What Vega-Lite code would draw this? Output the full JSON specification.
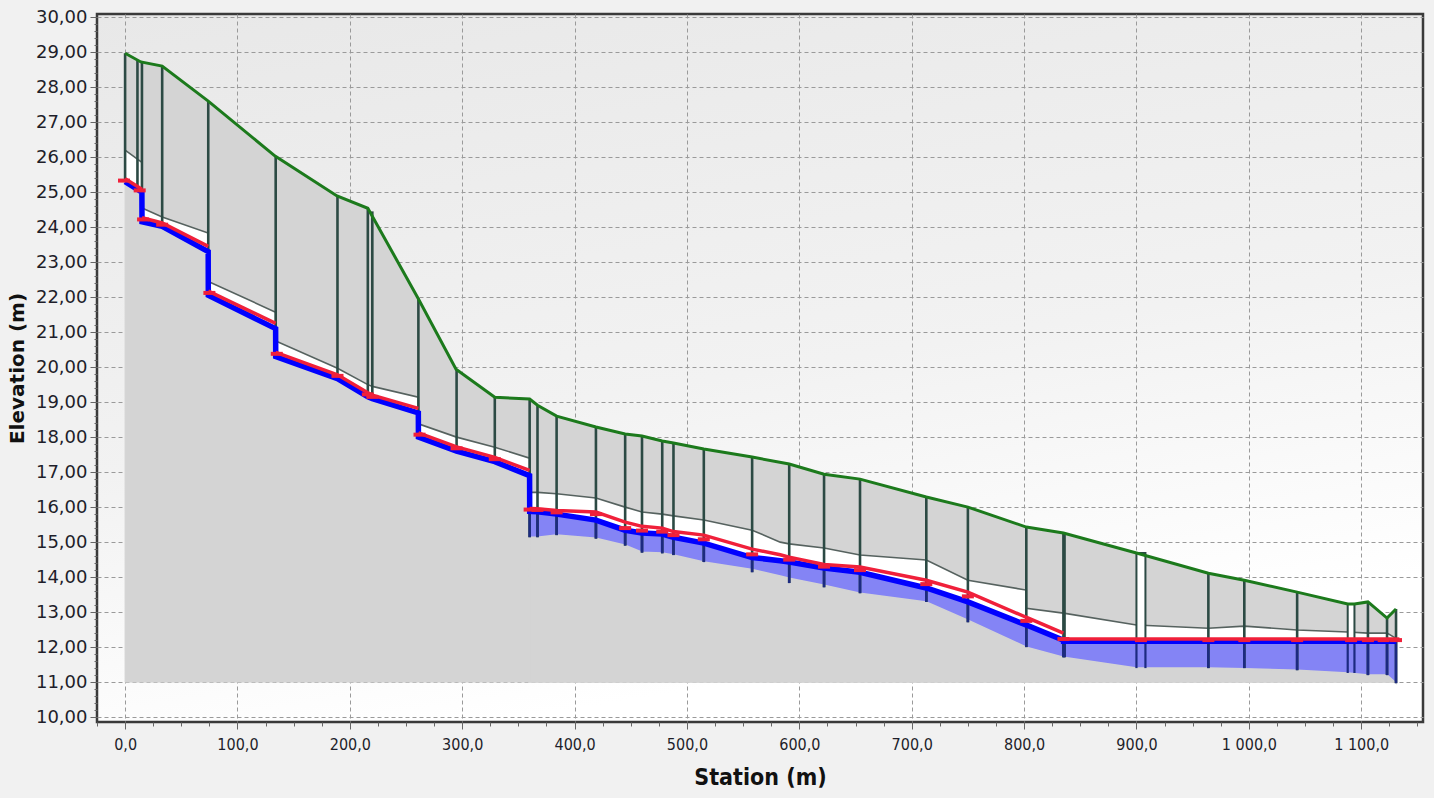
{
  "$schema": "https://vega.github.io/schema/vega-lite/v6.json",
  "width": 1326,
  "height": 708,
  "autosize": {"type": "none"},
  "padding": {"left": 97, "top": 14, "right": 11, "bottom": 76},
  "background": "#f1f1f1",
  "config": {
    "view": {
      "fill": {"gradient": "linear", "x1": 0, "y1": 0, "x2": 0.3, "y2": 1, "stops": [{"offset": 0, "color": "#e8e8e8"}, {"offset": 0.6, "color": "#f2f2f2"}, {"offset": 1, "color": "#ffffff"}]},
      "stroke": "#3a3a3a",
      "strokeWidth": 2.5
    },
    "axis": {
      "labelFont": "DejaVu Sans",
      "labelColor": "#1e1e2a",
      "titleFont": "DejaVu Sans",
      "titleColor": "#111111",
      "titleFontWeight": "bold",
      "gridColor": "#9a9a9a",
      "gridDash": [4, 3],
      "gridWidth": 1,
      "tickColor": "#666666",
      "domain": false,
      "labelOverlap": false,
      "zindex": 1
    }
  },
  "datasets": {
    "ground": [
      {"s": 0, "g": 28.97}, {"s": 14, "g": 28.72}, {"s": 33, "g": 28.6}, {"s": 74, "g": 27.6},
      {"s": 133.5, "g": 26.03}, {"s": 188.6, "g": 24.89}, {"s": 216, "g": 24.54}, {"s": 260.7, "g": 21.97},
      {"s": 294.5, "g": 19.94}, {"s": 329, "g": 19.14}, {"s": 360, "g": 19.09}, {"s": 367, "g": 18.91},
      {"s": 384, "g": 18.6}, {"s": 419, "g": 18.29}, {"s": 445, "g": 18.09}, {"s": 460, "g": 18.03},
      {"s": 478, "g": 17.89}, {"s": 488, "g": 17.83}, {"s": 515, "g": 17.66}, {"s": 558, "g": 17.43},
      {"s": 591, "g": 17.23}, {"s": 622, "g": 16.94}, {"s": 654, "g": 16.8}, {"s": 713, "g": 16.29},
      {"s": 750, "g": 16.0}, {"s": 802, "g": 15.43}, {"s": 835, "g": 15.26}, {"s": 900, "g": 14.69},
      {"s": 964, "g": 14.11}, {"s": 996, "g": 13.91}, {"s": 1043, "g": 13.57}, {"s": 1088, "g": 13.23},
      {"s": 1094, "g": 13.23}, {"s": 1106, "g": 13.29}, {"s": 1123, "g": 12.83}, {"s": 1131, "g": 13.09}
    ],
    "pipe": [
      {"i": 1, "s": 0, "crown": 26.2, "water": 25.38, "inv": 25.3, "seg": "A"},
      {"i": 2, "s": 14.95, "crown": 25.85, "water": 25.08, "inv": 25.0, "seg": "A"},
      {"i": 3, "s": 15.05, "crown": 24.55, "water": 24.27, "inv": 24.15, "seg": "B"},
      {"i": 4, "s": 33, "crown": 24.29, "water": 24.12, "inv": 24.02, "seg": "B"},
      {"i": 5, "s": 73.95, "crown": 23.83, "water": 23.45, "inv": 23.3, "seg": "B"},
      {"i": 6, "s": 74.05, "crown": 22.45, "water": 22.17, "inv": 22.05, "seg": "C"},
      {"i": 7, "s": 133.95, "crown": 21.57, "water": 21.25, "inv": 21.1, "seg": "C"},
      {"i": 8, "s": 134.05, "crown": 20.75, "water": 20.42, "inv": 20.3, "seg": "D"},
      {"i": 9, "s": 189, "crown": 19.97, "water": 19.78, "inv": 19.67, "seg": "D"},
      {"i": 10, "s": 216, "crown": 19.5, "water": 19.27, "inv": 19.15, "seg": "D"},
      {"i": 11, "s": 220, "crown": 19.45, "water": 19.2, "inv": 19.1, "seg": "D"},
      {"i": 12, "s": 260.95, "crown": 19.14, "water": 18.82, "inv": 18.69, "seg": "D"},
      {"i": 13, "s": 261.05, "crown": 18.38, "water": 18.12, "inv": 18.0, "seg": "E"},
      {"i": 14, "s": 295, "crown": 18.0, "water": 17.72, "inv": 17.6, "seg": "E"},
      {"i": 15, "s": 329, "crown": 17.71, "water": 17.42, "inv": 17.3, "seg": "E"},
      {"i": 16, "s": 359.95, "crown": 17.4, "water": 17.05, "inv": 16.9, "seg": "E"},
      {"i": 17, "s": 360.05, "crown": 16.42, "water": 15.96, "inv": 15.88, "seg": "F"},
      {"i": 18, "s": 367, "crown": 16.42, "water": 15.95, "inv": 15.87, "seg": "F"},
      {"i": 19, "s": 384, "crown": 16.38, "water": 15.9, "inv": 15.8, "seg": "F"},
      {"i": 20, "s": 419, "crown": 16.26, "water": 15.86, "inv": 15.63, "seg": "F"},
      {"i": 21, "s": 445, "crown": 16.0, "water": 15.57, "inv": 15.34, "seg": "F"},
      {"i": 22, "s": 460, "crown": 15.86, "water": 15.45, "inv": 15.26, "seg": "F"},
      {"i": 23, "s": 478, "crown": 15.8, "water": 15.4, "inv": 15.23, "seg": "F"},
      {"i": 24, "s": 488, "crown": 15.75, "water": 15.3, "inv": 15.14, "seg": "F"},
      {"i": 25, "s": 515, "crown": 15.63, "water": 15.2, "inv": 14.97, "seg": "F"},
      {"i": 26, "s": 558, "crown": 15.34, "water": 14.8, "inv": 14.56, "seg": "F"},
      {"i": 27, "s": 583, "crown": 15.0, "water": 14.64, "inv": 14.47, "seg": "F"},
      {"i": 28, "s": 591, "crown": 14.95, "water": 14.57, "inv": 14.43, "seg": "F"},
      {"i": 29, "s": 622, "crown": 14.83, "water": 14.36, "inv": 14.26, "seg": "F"},
      {"i": 30, "s": 654, "crown": 14.63, "water": 14.29, "inv": 14.14, "seg": "F"},
      {"i": 31, "s": 713, "crown": 14.49, "water": 13.91, "inv": 13.69, "seg": "F"},
      {"i": 32, "s": 750, "crown": 13.91, "water": 13.57, "inv": 13.29, "seg": "F"},
      {"i": 33, "s": 801.95, "crown": 13.63, "water": 12.85, "inv": 12.63, "seg": "F"},
      {"i": 34, "s": 802.05, "crown": 13.11, "water": 12.85, "inv": 12.63, "seg": "F"},
      {"i": 35, "s": 834.95, "crown": 12.97, "water": 12.4, "inv": 12.2, "seg": "F"},
      {"i": 36, "s": 835.05, "crown": 12.97, "water": 12.23, "inv": 12.17, "seg": "G"},
      {"i": 37, "s": 900, "crown": 12.63, "water": 12.23, "inv": 12.17, "seg": "G"},
      {"i": 38, "s": 964, "crown": 12.54, "water": 12.23, "inv": 12.17, "seg": "G"},
      {"i": 39, "s": 996, "crown": 12.6, "water": 12.23, "inv": 12.17, "seg": "G"},
      {"i": 40, "s": 1043, "crown": 12.49, "water": 12.23, "inv": 12.17, "seg": "G"},
      {"i": 41, "s": 1088, "crown": 12.43, "water": 12.23, "inv": 12.17, "seg": "G"},
      {"i": 42, "s": 1106, "crown": 12.4, "water": 12.23, "inv": 12.17, "seg": "G"},
      {"i": 43, "s": 1123, "crown": 12.4, "water": 12.23, "inv": 12.17, "seg": "G"},
      {"i": 44, "s": 1131, "crown": 12.25, "water": 12.23, "inv": 12.17, "seg": "G"}
    ],
    "sump": [
      {"s": 360, "top": 15.88, "bot": 15.14},
      {"s": 367, "top": 15.87, "bot": 15.14},
      {"s": 384, "top": 15.8, "bot": 15.2},
      {"s": 419, "top": 15.63, "bot": 15.11},
      {"s": 445, "top": 15.34, "bot": 14.91},
      {"s": 460, "top": 15.26, "bot": 14.71},
      {"s": 478, "top": 15.23, "bot": 14.69},
      {"s": 488, "top": 15.14, "bot": 14.63},
      {"s": 515, "top": 14.97, "bot": 14.43},
      {"s": 558, "top": 14.56, "bot": 14.22},
      {"s": 583, "top": 14.47, "bot": 14.03},
      {"s": 591, "top": 14.43, "bot": 13.97},
      {"s": 622, "top": 14.26, "bot": 13.77},
      {"s": 654, "top": 14.14, "bot": 13.54},
      {"s": 713, "top": 13.69, "bot": 13.29},
      {"s": 750, "top": 13.29, "bot": 12.77},
      {"s": 802, "top": 12.63, "bot": 12.0},
      {"s": 835, "top": 12.2, "bot": 11.71},
      {"s": 900, "top": 12.17, "bot": 11.4},
      {"s": 964, "top": 12.17, "bot": 11.4},
      {"s": 996, "top": 12.17, "bot": 11.38},
      {"s": 1043, "top": 12.17, "bot": 11.34},
      {"s": 1088, "top": 12.17, "bot": 11.26},
      {"s": 1106, "top": 12.17, "bot": 11.2},
      {"s": 1123, "top": 12.17, "bot": 11.2},
      {"s": 1131, "top": 12.17, "bot": 10.97}
    ],
    "redtail": [
      {"s": 1131, "w": 12.23}, {"s": 1134, "w": 12.23}
    ],
    "mh": [
      {"s": 0, "top": 28.97, "bot": 25.3},
      {"s": 11, "top": 28.78, "bot": 25.05},
      {"s": 15, "top": 28.72, "bot": 24.1},
      {"s": 33, "top": 28.6, "bot": 24.0},
      {"s": 74, "top": 27.6, "bot": 22.1},
      {"s": 134, "top": 26.03, "bot": 20.35},
      {"s": 189, "top": 24.89, "bot": 19.7},
      {"s": 216, "top": 24.54, "bot": 19.2},
      {"s": 220, "top": 24.45, "bot": 19.1},
      {"s": 261, "top": 21.97, "bot": 18.05},
      {"s": 295, "top": 19.94, "bot": 17.65},
      {"s": 329, "top": 19.14, "bot": 17.35},
      {"s": 360, "top": 19.09, "inv": 15.88, "bot": 15.14},
      {"s": 367, "top": 18.91, "inv": 15.87, "bot": 15.14},
      {"s": 384, "top": 18.6, "inv": 15.8, "bot": 15.2},
      {"s": 419, "top": 18.29, "inv": 15.63, "bot": 15.1},
      {"s": 445, "top": 18.09, "inv": 15.34, "bot": 14.9},
      {"s": 460, "top": 18.03, "inv": 15.26, "bot": 14.7},
      {"s": 478, "top": 17.89, "inv": 15.23, "bot": 14.68},
      {"s": 488, "top": 17.83, "inv": 15.14, "bot": 14.63},
      {"s": 515, "top": 17.66, "inv": 14.97, "bot": 14.43},
      {"s": 558, "top": 17.43, "inv": 14.56, "bot": 14.14},
      {"s": 591, "top": 17.23, "inv": 14.43, "bot": 13.83},
      {"s": 622, "top": 16.94, "inv": 14.26, "bot": 13.71},
      {"s": 654, "top": 16.8, "inv": 14.14, "bot": 13.54},
      {"s": 713, "top": 16.29, "inv": 13.69, "bot": 13.29},
      {"s": 750, "top": 16.0, "inv": 13.29, "bot": 12.71},
      {"s": 802, "top": 15.43, "inv": 12.63, "bot": 12.0},
      {"s": 835, "top": 15.26, "inv": 12.17, "bot": 11.71},
      {"s": 836, "top": 15.25, "inv": 12.17, "bot": 11.71},
      {"s": 964, "top": 14.11, "inv": 12.17, "bot": 11.4},
      {"s": 996, "top": 13.91, "inv": 12.17, "bot": 11.4},
      {"s": 1043, "top": 13.57, "inv": 12.17, "bot": 11.34},
      {"s": 1106, "top": 13.29, "inv": 12.17, "bot": 11.2},
      {"s": 1123, "top": 12.83, "inv": 12.17, "bot": 11.2},
      {"s": 1131, "top": 13.09, "inv": 12.17, "bot": 10.97}
    ],
    "box": [
      {"s1": 900, "s2": 908, "top": 14.69, "inv": 12.2},
      {"s1": 1088, "s2": 1094, "top": 13.23, "inv": 12.2}
    ],
    "low": [
      {"s": 900, "inv": 12.17, "bot": 11.4},
      {"s": 908, "inv": 12.17, "bot": 11.4},
      {"s": 1088, "inv": 12.17, "bot": 11.26},
      {"s": 1094, "inv": 12.17, "bot": 11.26}
    ],
    "ticks": [
      {"s": -1, "y": 25.33}, {"s": 13, "y": 25.05}, {"s": 16, "y": 24.22}, {"s": 33, "y": 24.07},
      {"s": 75, "y": 22.12}, {"s": 135, "y": 20.38}, {"s": 189, "y": 19.75}, {"s": 216, "y": 19.22},
      {"s": 220, "y": 19.15}, {"s": 262, "y": 18.07}, {"s": 295, "y": 17.68}, {"s": 329, "y": 17.37},
      {"s": 360, "y": 15.93}, {"s": 367, "y": 15.92}, {"s": 384, "y": 15.85}, {"s": 419, "y": 15.8},
      {"s": 445, "y": 15.4}, {"s": 460, "y": 15.33}, {"s": 478, "y": 15.3}, {"s": 488, "y": 15.2},
      {"s": 515, "y": 15.08}, {"s": 558, "y": 14.65}, {"s": 591, "y": 14.5}, {"s": 622, "y": 14.3},
      {"s": 654, "y": 14.2}, {"s": 713, "y": 13.8}, {"s": 750, "y": 13.45}, {"s": 802, "y": 12.75},
      {"s": 835, "y": 12.23}, {"s": 904, "y": 12.2}, {"s": 964, "y": 12.2}, {"s": 996, "y": 12.2},
      {"s": 1043, "y": 12.2}, {"s": 1091, "y": 12.2}, {"s": 1106, "y": 12.2}, {"s": 1120, "y": 12.2},
      {"s": 1131, "y": 12.2}
    ]
  },
  "encoding": {
    "x": {
      "type": "quantitative",
      "scale": {"domain": [-25, 1155], "nice": false, "zero": false},
      "axis": {
        "title": "Station (m)",
        "tickCount": 500,
        "values": [-25, 0, 25, 50, 75, 100, 125, 150, 175, 200, 225, 250, 275, 300, 325, 350, 375, 400, 425, 450, 475, 500, 525, 550, 575, 600, 625, 650, 675, 700, 725, 750, 775, 800, 825, 850, 875, 900, 925, 950, 975, 1000, 1025, 1050, 1075, 1100, 1125, 1150],
        "labelExpr": "(datum.value % 100 === 0 && datum.value >= 0) ? replace(replace(format(datum.value, ',.1f'), ',', ' '), '.', ',') : ''",
        "gridOpacity": {"condition": {"test": "datum.value % 100 === 0 && datum.value >= 0", "value": 1}, "value": 0},
        "tickSize": {"condition": {"test": "datum.value % 100 === 0", "value": 7}, "value": 4},
        "labelFont": "DejaVu Sans Condensed",
        "labelFontSize": 16,
        "labelPadding": 7,
        "titleFont": "DejaVu Sans Condensed",
        "titleFontSize": 23,
        "titlePadding": 14
      }
    },
    "y": {
      "type": "quantitative",
      "scale": {"domain": [9.86, 30.09], "nice": false, "zero": false}
    }
  },
  "layer": [
    {
      "data": {"name": "ground"},
      "mark": {"type": "area", "color": "#d4d4d4", "opacity": 1},
      "encoding": {
        "x": {"field": "s", "type": "quantitative"},
        "y": {
          "field": "g",
          "type": "quantitative",
          "axis": {
            "title": "Elevation (m)",
            "tickCount": 500,
            "values": [10, 10.2, 10.4, 10.6, 10.8, 11, 11.2, 11.4, 11.6, 11.8, 12, 12.2, 12.4, 12.6, 12.8, 13, 13.2, 13.4, 13.6, 13.8, 14, 14.2, 14.4, 14.6, 14.8, 15, 15.2, 15.4, 15.6, 15.8, 16, 16.2, 16.4, 16.6, 16.8, 17, 17.2, 17.4, 17.6, 17.8, 18, 18.2, 18.4, 18.6, 18.8, 19, 19.2, 19.4, 19.6, 19.8, 20, 20.2, 20.4, 20.6, 20.8, 21, 21.2, 21.4, 21.6, 21.8, 22, 22.2, 22.4, 22.6, 22.8, 23, 23.2, 23.4, 23.6, 23.8, 24, 24.2, 24.4, 24.6, 24.8, 25, 25.2, 25.4, 25.6, 25.8, 26, 26.2, 26.4, 26.6, 26.8, 27, 27.2, 27.4, 27.6, 27.8, 28, 28.2, 28.4, 28.6, 28.8, 29, 29.2, 29.4, 29.6, 29.8, 30],
            "labelExpr": "abs(datum.value - round(datum.value)) < 0.01 ? replace(format(datum.value, '.2f'), '.', ',') : ''",
            "gridOpacity": {"condition": {"test": "abs(datum.value - round(datum.value)) < 0.01", "value": 1}, "value": 0},
            "tickSize": {"condition": {"test": "abs(datum.value - round(datum.value)) < 0.01", "value": 7}, "value": 3},
            "labelFontSize": 18,
            "labelPadding": 3,
            "titleFontSize": 20,
            "titlePadding": 8
          }
        },
        "y2": {"datum": 11}
      }
    },
    {
      "data": {"name": "pipe"},
      "mark": {"type": "area", "color": "#ffffff", "opacity": 1},
      "encoding": {
        "x": {"field": "s", "type": "quantitative"},
        "y": {"field": "crown", "type": "quantitative"},
        "y2": {"datum": 11}
      }
    },
    {
      "data": {"name": "pipe"},
      "mark": {"type": "area", "color": "#d4d4d4", "opacity": 1, "stroke": "#d4d4d4", "strokeWidth": 1},
      "encoding": {
        "x": {"field": "s", "type": "quantitative"},
        "y": {"field": "inv", "type": "quantitative"},
        "y2": {"datum": 11}
      }
    },
    {
      "data": {"name": "sump"},
      "mark": {"type": "area", "color": "#8484f5", "opacity": 1},
      "encoding": {
        "x": {"field": "s", "type": "quantitative"},
        "y": {"field": "top", "type": "quantitative"},
        "y2": {"datum": 11}
      }
    },
    {
      "data": {"name": "sump"},
      "mark": {"type": "area", "color": "#d4d4d4", "opacity": 1, "stroke": "#d4d4d4", "strokeWidth": 1.5},
      "encoding": {
        "x": {"field": "s", "type": "quantitative"},
        "y": {"field": "bot", "type": "quantitative"},
        "y2": {"datum": 11}
      }
    },
    {
      "data": {"name": "pipe"},
      "mark": {"type": "line", "color": "#56625f", "strokeWidth": 1.6},
      "encoding": {
        "x": {"field": "s", "type": "quantitative"},
        "y": {"field": "crown", "type": "quantitative"},
        "order": {"field": "i", "type": "quantitative"}
      }
    },
    {
      "data": {"name": "mh"},
      "mark": {"type": "rule", "color": "#2c4a44", "strokeWidth": 2.6},
      "encoding": {
        "x": {"field": "s", "type": "quantitative"},
        "y": {"field": "top", "type": "quantitative"},
        "y2": {"field": "bot"}
      }
    },
    {
      "data": {"name": "box"},
      "mark": {"type": "rect", "fill": "#ffffff", "stroke": "#2c4a44", "strokeWidth": 2},
      "encoding": {
        "x": {"field": "s1", "type": "quantitative"},
        "x2": {"field": "s2"},
        "y": {"field": "top", "type": "quantitative"},
        "y2": {"field": "inv"}
      }
    },
    {
      "data": {"name": "mh"},
      "transform": [{"filter": "isValid(datum.inv)"}],
      "mark": {"type": "rule", "color": "#1c2a80", "strokeWidth": 2.6},
      "encoding": {
        "x": {"field": "s", "type": "quantitative"},
        "y": {"field": "inv", "type": "quantitative"},
        "y2": {"field": "bot"}
      }
    },
    {
      "data": {"name": "low"},
      "mark": {"type": "rule", "color": "#1c2a80", "strokeWidth": 2.2},
      "encoding": {
        "x": {"field": "s", "type": "quantitative"},
        "y": {"field": "inv", "type": "quantitative"},
        "y2": {"field": "bot"}
      }
    },
    {
      "data": {"name": "pipe"},
      "mark": {"type": "line", "color": "#0000ff", "strokeWidth": 5.5},
      "encoding": {
        "x": {"field": "s", "type": "quantitative"},
        "y": {"field": "inv", "type": "quantitative"},
        "order": {"field": "i", "type": "quantitative"}
      }
    },
    {
      "data": {"name": "pipe"},
      "mark": {"type": "line", "color": "#f0203a", "strokeWidth": 3.5},
      "encoding": {
        "x": {"field": "s", "type": "quantitative"},
        "y": {"field": "water", "type": "quantitative"},
        "detail": {"field": "seg"},
        "order": {"field": "i", "type": "quantitative"}
      }
    },
    {
      "data": {"name": "redtail"},
      "mark": {"type": "line", "color": "#f0203a", "strokeWidth": 3.5},
      "encoding": {
        "x": {"field": "s", "type": "quantitative"},
        "y": {"field": "w", "type": "quantitative"}
      }
    },
    {
      "data": {"name": "ticks"},
      "mark": {"type": "tick", "orient": "horizontal", "color": "#f0203a", "size": 12, "thickness": 4, "opacity": 1},
      "encoding": {
        "x": {"field": "s", "type": "quantitative"},
        "y": {"field": "y", "type": "quantitative"}
      }
    },
    {
      "data": {"name": "ground"},
      "mark": {"type": "line", "color": "#1c7a1c", "strokeWidth": 3},
      "encoding": {
        "x": {"field": "s", "type": "quantitative"},
        "y": {"field": "g", "type": "quantitative"}
      }
    }
  ]
}
